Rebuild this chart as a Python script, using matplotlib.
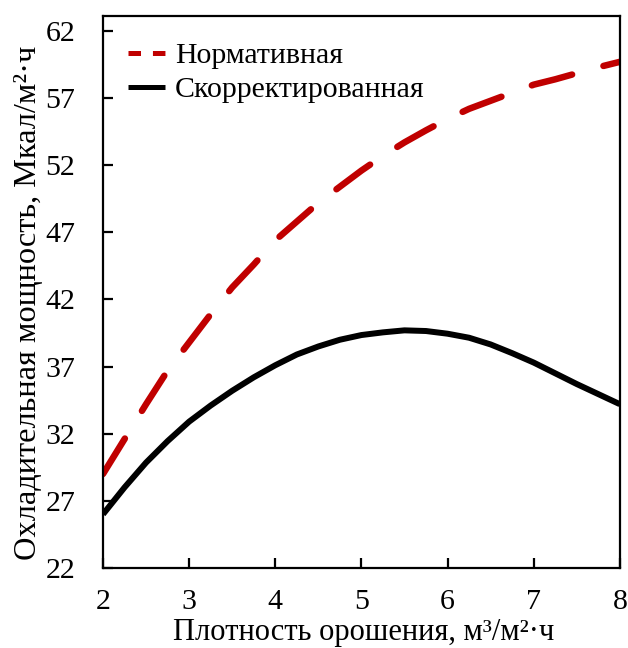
import matplotlib
matplotlib.use("Agg")
import matplotlib.pyplot as plt
from matplotlib.lines import Line2D

plt.rcParams['font.family'] = ['Liberation Serif', 'DejaVu Serif']
plt.rcParams['lines.scale_dashes'] = False

# Плотность орошения, м³/м²·ч
density = [2.0, 2.25, 2.5, 2.75, 3.0, 3.25, 3.5, 3.75, 4.0, 4.25, 4.5, 4.75, 5.0,
           5.25, 5.5, 5.75, 6.0, 6.25, 6.5, 6.75, 7.0, 7.25, 7.5, 7.75, 8.0]
# Охладительная мощность, Мкал/м²·ч
normative = [29.0, 31.6, 34.2, 36.7, 38.8, 40.9, 42.9, 44.6, 46.4, 47.8, 49.2, 50.4, 51.6,
             52.7, 53.7, 54.6, 55.45, 56.2, 56.8, 57.4, 58.0, 58.4, 58.85, 59.3, 59.7]
corrected = [26.0, 28.0, 29.85, 31.45, 32.9, 34.1, 35.2, 36.2, 37.1, 37.9, 38.5, 39.0, 39.35,
             39.55, 39.7, 39.65, 39.45, 39.15, 38.65, 38.0, 37.3, 36.5, 35.7, 34.95, 34.2]

series_names = ["Нормативная", "Скорректированная"]
x_ticks = [2, 3, 4, 5, 6, 7, 8]
y_ticks = [22, 27, 32, 37, 42, 47, 52, 57, 62]

RED = "#c00000"

fig = plt.figure(figsize=(6.28, 6.48), dpi=100)
ax = fig.add_axes([0.164, 0.1235, 0.823, 0.8515])

ax.plot(density, normative, color=RED, lw=4.7, dash_capstyle='round',
        dash_joinstyle='round', linestyle=(0, (30, 23.4)))
ax.plot(density, corrected, color="black", lw=4.3, solid_capstyle='butt',
        solid_joinstyle='round')

ax.set_xlim(2, 8)
ax.set_ylim(22, 63.1)
ax.set_xticks(x_ticks)
ax.set_yticks(y_ticks)

for side in ('left', 'bottom', 'top', 'right'):
    ax.spines[side].set_linewidth(1.6)

ax.tick_params(axis='both', direction='in', length=7, width=1.6,
               labelsize=21.5, top=False, right=False)
ax.tick_params(axis='x', pad=15)
ax.tick_params(axis='y', pad=20)

ax.set_xlabel("Плотность орошения, м³/м²·ч", fontsize=22)
ax.xaxis.set_label_coords(0.504, -0.0906)
ax.set_ylabel("Охладительная мощность, Мкал/м²·ч", fontsize=23.3)
ax.yaxis.set_label_coords(-0.116, 0.48)

handles = [
    Line2D([], [], color=RED, lw=3.6, linestyle=(0, (9, 8.6)), dash_capstyle='butt'),
    Line2D([], [], color="black", lw=3.6, solid_capstyle='butt'),
]
ax.legend(handles, series_names, loc='upper left', frameon=False,
          fontsize=21.5, handlelength=1.24, handletextpad=0.33,
          labelspacing=0.25, borderaxespad=0.3,
          bbox_to_anchor=(0.0084, 0.991))

fig.savefig("out.png", dpi=100)
